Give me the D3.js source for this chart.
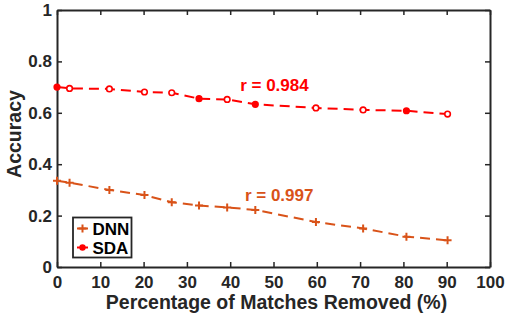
<!DOCTYPE html>
<html>
<head>
<meta charset="utf-8">
<script src="https://cdn.jsdelivr.net/npm/d3@7"></script>
<style>
  html, body { margin: 0; padding: 0; background: #fff; }
  svg { display: block; font-family: "Liberation Sans", Arial, Helvetica, sans-serif; font-weight: bold; }
</style>
</head>
<body>
<svg id="chart" width="506" height="320"></svg>
<script>
// ---- data ----
const xValues = [0, 2.9, 12.1, 20.2, 26.5, 32.8, 39.3, 45.8, 59.8, 70.7, 80.7, 90.2];
const dnnValues = [0.336, 0.328, 0.300, 0.280, 0.252, 0.239, 0.232, 0.222, 0.175, 0.150, 0.118, 0.104];
const sdaValues = [0.700, 0.695, 0.693, 0.681, 0.678, 0.655, 0.652, 0.633, 0.619, 0.611, 0.608, 0.595];
const sdaFilled = [true, false, false, false, false, true, false, true, false, false, true, false];
const xTicks = [0, 10, 20, 30, 40, 50, 60, 70, 80, 90, 100];
const yTicks = [0, 0.2, 0.4, 0.6, 0.8, 1];
const seriesNames = ["DNN", "SDA"];
const seriesColors = ["#D95319", "#FF0000"];
const annotations = [
  { text: "r = 0.984", x: 42.3, y: 0.686, color: "#FF0000" },
  { text: "r = 0.997", x: 43.4, y: 0.257, color: "#D95319" }
];
const xLabel = "Percentage of Matches Removed (%)";
const yLabel = "Accuracy";

// ---- layout ----
const svg = d3.select("#chart");
const L = 57, R = 490, T = 10, B = 267;
const x = d3.scaleLinear().domain([0, 100]).range([L, R]);
const y = d3.scaleLinear().domain([0, 1]).range([B, T]);
const axisColor = "#262626";

// axes
const xAxisB = d3.axisBottom(x).tickValues(xTicks).tickSizeInner(-5).tickSizeOuter(0).tickPadding(9).tickFormat(d3.format("d"));
const xAxisT = d3.axisTop(x).tickValues(xTicks).tickSizeInner(-5).tickSizeOuter(0).tickFormat("");
const yAxisL = d3.axisLeft(y).tickValues(yTicks).tickSizeInner(-5).tickSizeOuter(0).tickPadding(5).tickFormat(d => d === 0 || d === 1 ? d3.format("d")(d) : d3.format(".1f")(d));
const yAxisR = d3.axisRight(y).tickValues(yTicks).tickSizeInner(-5).tickSizeOuter(0).tickFormat("");

function styleAxis(g) {
  g.selectAll("path.domain").attr("stroke", axisColor).attr("stroke-width", 2);
  g.selectAll(".tick line").attr("stroke", axisColor).attr("stroke-width", 1.5);
  g.selectAll(".tick text").attr("fill", axisColor).style("font-size", "17px").style("font-weight", "bold")
    .style("font-family", "'Liberation Sans', Arial, sans-serif");
}
svg.append("g").attr("transform", `translate(0,${B})`).call(xAxisB).call(styleAxis);
svg.append("g").attr("transform", `translate(0,${T})`).call(xAxisT).call(styleAxis);
svg.append("g").attr("transform", `translate(${L},0)`).call(yAxisL).call(styleAxis);
svg.append("g").attr("transform", `translate(${R},0)`).call(yAxisR).call(styleAxis);

// labels
svg.append("text").attr("x", 276.5).attr("y", 308.5).attr("text-anchor", "middle")
  .attr("fill", axisColor).style("font-size", "19.5px").text(xLabel);
svg.append("text").attr("transform", `translate(21,134) rotate(-90)`).attr("text-anchor", "middle")
  .attr("fill", axisColor).style("font-size", "19.5px").text(yLabel);

// lines
const line = d3.line().x((d, i) => x(xValues[i])).y(d => y(d));
const series = [dnnValues, sdaValues];
series.forEach((vals, s) => {
  svg.append("path").datum(vals).attr("d", line).attr("fill", "none")
    .attr("stroke", seriesColors[s]).attr("stroke-width", 2).attr("stroke-dasharray", "10,6");
});

// DNN markers: plus signs
svg.append("g").selectAll("path").data(dnnValues).join("path")
  .attr("transform", (d, i) => `translate(${x(xValues[i])},${y(d)})`)
  .attr("d", "M-4,0H4M0,-4V4").attr("stroke", seriesColors[0]).attr("stroke-width", 2).attr("fill", "none");

// SDA markers: circles
svg.append("g").selectAll("circle").data(sdaValues).join("circle")
  .attr("cx", (d, i) => x(xValues[i])).attr("cy", d => y(d)).attr("r", 2.8)
  .attr("fill", (d, i) => sdaFilled[i] ? seriesColors[1] : "#fff")
  .attr("stroke", seriesColors[1]).attr("stroke-width", 1.6);

// annotations
annotations.forEach(a => {
  svg.append("text").attr("x", x(a.x)).attr("y", y(a.y)).attr("fill", a.color)
    .style("font-size", "17px").text(a.text);
});

// legend
const lg = svg.append("g");
lg.append("rect").attr("x", 73).attr("y", 217.5).attr("width", 58.5).attr("height", 40)
  .attr("fill", "#fff").attr("stroke", axisColor).attr("stroke-width", 1.8);
seriesNames.forEach((name, s) => {
  const cy = 228.5 + s * 19;
  lg.append("line").attr("x1", 77).attr("x2", 88).attr("y1", cy).attr("y2", cy)
    .attr("stroke", seriesColors[s]).attr("stroke-width", 2);
  if (s === 0) {
    lg.append("path").attr("transform", `translate(82.5,${cy})`).attr("d", "M-4,0H4M0,-4V4")
      .attr("stroke", seriesColors[s]).attr("stroke-width", 2);
  } else {
    lg.append("circle").attr("cx", 82.5).attr("cy", cy).attr("r", 3.2).attr("fill", seriesColors[s]);
  }
  lg.append("text").attr("x", 92.5).attr("y", cy + 6).attr("fill", "#000").style("font-size", "17px").text(name);
});
</script>
</body>
</html>
